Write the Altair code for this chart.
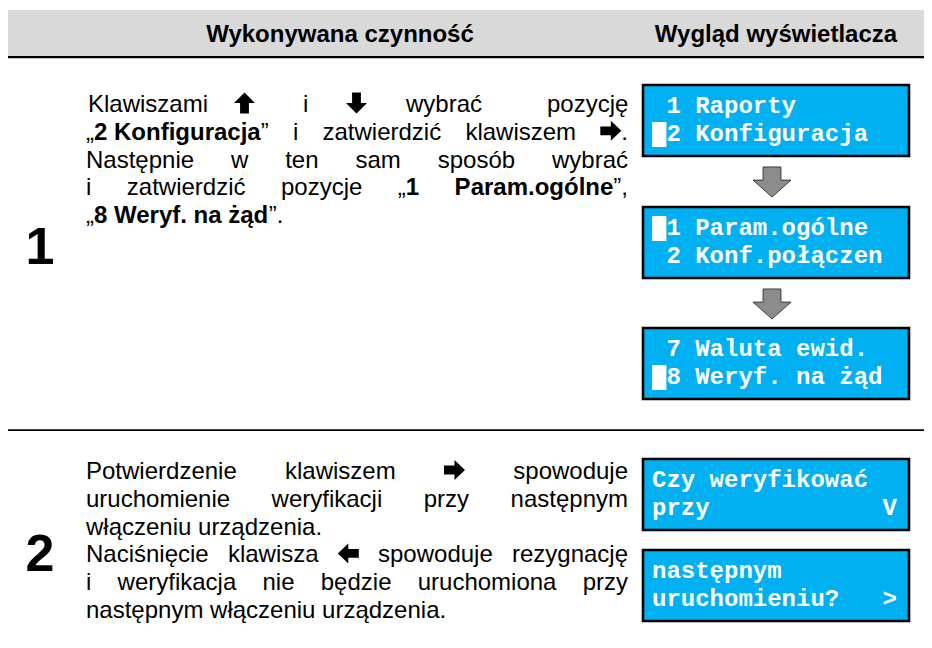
import re
import altair as alt
import pandas as pd

# ---------------- content ----------------
header_texts = ["Wykonywana czynność", "Wygląd wyświetlacza"]
step_numbers = ["1", "2"]

# paragraph lines: list of words, each word a list of (text, style) runs
# style: "r" regular, "b" bold, "UP"/"DOWN"/"RIGHT"/"LEFT" key icons
sec1_lines = [
    [[("Klawiszami", "r")], [("", "UP")], [("i", "r")], [("", "DOWN")], [("wybrać", "r")], [("pozycję", "r")]],
    [[("„", "r"), ("2 Konfiguracja", "b"), ("”", "r")], [("i", "r")], [("zatwierdzić", "r")],
     [("klawiszem", "r")], [("", "RIGHT"), (".", "r")]],
    [[("Następnie", "r")], [("w", "r")], [("ten", "r")], [("sam", "r")], [("sposób", "r")], [("wybrać", "r")]],
    [[("i", "r")], [("zatwierdzić", "r")], [("pozycje", "r")], [("„", "r"), ("1", "b")],
     [("Param.ogólne", "b"), ("”,", "r")]],
    [[("„", "r"), ("8 Weryf. na żąd", "b"), ("”.", "r")]],
]
sec1_justify = [True, True, True, True, False]
# word starts of the first line
sec1_line1_starts = [88, 234, 303, 346, 406, 547]

sec2_lines = [
    [[("Potwierdzenie", "r")], [("klawiszem", "r")], [("", "RIGHT")], [("spowoduje", "r")]],
    [[("uruchomienie", "r")], [("weryfikacji", "r")], [("przy", "r")], [("następnym", "r")]],
    [[("włączeniu", "r")], [("urządzenia.", "r")]],
    [[("Naciśnięcie", "r")], [("klawisza", "r")], [("", "LEFT")], [("spowoduje", "r")], [("rezygnację", "r")]],
    [[("i", "r")], [("weryfikacja", "r")], [("nie", "r")], [("będzie", "r")], [("uruchomiona", "r")], [("przy", "r")]],
    [[("następnym", "r")], [("włączeniu", "r")], [("urządzenia.", "r")]],
]
sec2_justify = [True, True, False, True, True, False]

lcd_screens = [
    [" 1 Raporty", " 2 Konfiguracja"],
    [" 1 Param.ogólne", " 2 Konf.połączen"],
    [" 7 Waluta ewid.", " 8 Weryf. na żąd"],
    ["Czy weryfikować", "przy            V"],
    ["następnym", "uruchomieniu?   >"],
]
lcd_cursor = [(0, 1), (1, 0), (2, 1)]  # (screen, line) with cursor block

# ---------------- layout ----------------
W, H = 916, 632
XS = alt.Scale(domain=[8, 8 + W], range=[0, W], nice=False, zero=False)
YS = alt.Scale(domain=[8, 8 + H], range=[0, H], nice=False, zero=False)

FS = 24            # body font size
LEFT, RIGHT = 86, 628
ICON_ADV = 21
sec1_base = [112 + 27.8 * i for i in range(5)]
sec2_base = [479 + 27.8 * i for i in range(6)]
lcd_tops = [85, 207, 328, 459, 550]
LCD_H = 71
LCD_X0, LCD_X1 = 643, 909
LCD_TX, LCD_CW = 652, 14.4

REG = {' ': 278, '.': 278, ',': 278, '?': 556, '„': 333, '”': 333, '1': 556, '2': 556, '8': 556,
       'K': 667, 'N': 722, 'P': 667, 'W': 944,
       'a': 556, 'b': 556, 'c': 500, 'd': 556, 'e': 556, 'f': 278, 'g': 556, 'h': 556, 'i': 222,
       'j': 222, 'k': 500, 'l': 222, 'm': 833, 'n': 556, 'o': 556, 'p': 556, 'r': 333, 's': 500,
       't': 278, 'u': 556, 'w': 722, 'y': 500, 'z': 500, 'ą': 556, 'ć': 500, 'ę': 556, 'ł': 222,
       'ń': 556, 'ó': 556, 'ś': 500, 'ź': 500, 'ż': 500}
BOLD = {' ': 278, '.': 278, ',': 278, '1': 556, '2': 556, '8': 556, 'K': 722, 'P': 667, 'W': 944,
        'a': 556, 'c': 556, 'd': 611, 'e': 556, 'f': 333, 'g': 611, 'i': 278, 'j': 278, 'l': 278,
        'm': 889, 'n': 611, 'o': 611, 'r': 389, 'u': 611, 'y': 556, 'z': 500, 'ą': 556, 'ó': 611,
        'ż': 500}


def run_w(text, style):
    if style in ("r", "b"):
        t = REG if style == "r" else BOLD
        return sum(t.get(ch, 556) for ch in text) * FS / 1000
    return ICON_ADV


def word_w(word):
    return sum(run_w(t, s) for t, s in word)


text_rows, icon_rows = [], []


def lay_line(words, base, justify, starts=None):
    widths = [word_w(w) for w in words]
    if starts is None:
        if justify and len(words) > 1:
            gap = (RIGHT - LEFT - sum(widths)) / (len(words) - 1)
        else:
            gap = REG[' '] * FS / 1000
        starts, x = [], LEFT
        for wd in widths:
            starts.append(x)
            x += wd + gap
    for word, x in zip(words, starts):
        for t, s in word:
            if s in ("r", "b"):
                text_rows.append(dict(x=x, y=base, text=t, bold=s == "b"))
            else:
                icon_rows.append(dict(x=x + ICON_ADV / 2, y=base - 9, kind=s))
            x += run_w(t, s)


for i, (ln, j) in enumerate(zip(sec1_lines, sec1_justify)):
    lay_line(ln, sec1_base[i], j, sec1_line1_starts if i == 0 else None)
for i, (ln, j) in enumerate(zip(sec2_lines, sec2_justify)):
    lay_line(ln, sec2_base[i], j)

text_df = pd.DataFrame(text_rows)
icon_df = pd.DataFrame(icon_rows)

# rects: header band and rules
band_df = pd.DataFrame([
    dict(x=8, x2=932, y=10, y2=56, fill="#d9d9d9"),
    dict(x=8, x2=932, y=56, y2=58.3, fill="#000000"),
    dict(x=8, x2=932, y=429.2, y2=430.9, fill="#000000"),
])
box_df = pd.DataFrame([dict(x=LCD_X0, x2=LCD_X1, y=t, y2=t + LCD_H) for t in lcd_tops])

lcd_rows, cur_rows = [], []
for si, lines in enumerate(lcd_screens):
    for li, ln in enumerate(lines):
        base = lcd_tops[si] + 28 + 28 * li
        for m in re.finditer(r"\S+(?: \S+)*", ln):
            lcd_rows.append(dict(x=LCD_TX + LCD_CW * m.start(), y=base, text=m.group()))
        if (si, li) in lcd_cursor:
            cur_rows.append(dict(x=LCD_TX, x2=LCD_TX + LCD_CW, y=base - 19, y2=base + 6))
lcd_df = pd.DataFrame(lcd_rows)
cur_df = pd.DataFrame(cur_rows)

head_df = pd.DataFrame(dict(x=[340, 776], y=[42, 42], text=header_texts))
num_df = pd.DataFrame(dict(x=[40, 40], y=[264, 571], text=step_numbers))
gray_df = pd.DataFrame(dict(x=[772, 772], y=[182, 304]))

# ---------------- marks ----------------
def pos(df, two=False):
    enc = dict(x=alt.X("x:Q", scale=XS, axis=None), y=alt.Y("y:Q", scale=YS, axis=None))
    if two:
        enc.update(x2="x2:Q", y2="y2:Q")
    return enc


band = alt.Chart(band_df).mark_rect().encode(color=alt.Color("fill:N", scale=None), **pos(band_df, True))
boxes = alt.Chart(box_df).mark_rect(fill="#00b0f0", stroke="#000000", strokeWidth=2.6).encode(**pos(box_df, True))
cursors = alt.Chart(cur_df).mark_rect(fill="#ffffff").encode(**pos(cur_df, True))

lcd_text = alt.Chart(lcd_df).mark_text(
    font="Liberation Mono", fontWeight="bold", fontSize=24, color="#ffffff",
    align="left", baseline="alphabetic").encode(text="text:N", **pos(lcd_df))

body_r = alt.Chart(text_df[~text_df.bold]).mark_text(
    font="Liberation Sans", fontSize=FS, color="#000000", align="left", baseline="alphabetic"
).encode(text="text:N", **pos(text_df))
body_b = alt.Chart(text_df[text_df.bold]).mark_text(
    font="Liberation Sans", fontWeight="bold", fontSize=FS, color="#000000", align="left",
    baseline="alphabetic").encode(text="text:N", **pos(text_df))

header = alt.Chart(head_df).mark_text(
    font="Liberation Sans", fontWeight="bold", fontSize=24, color="#000000", align="center",
    baseline="alphabetic").encode(text="text:N", **pos(head_df))
numbers = alt.Chart(num_df).mark_text(
    font="Liberation Sans", fontWeight="bold", fontSize=52, color="#000000", align="center",
    baseline="alphabetic").encode(text="text:N", **pos(num_df))

PATHS = {
    "UP": "M0,-1 L1,0 L0.42,0 L0.42,1 L-0.42,1 L-0.42,0 L-1,0 Z",
    "DOWN": "M0,1 L1,0 L0.42,0 L0.42,-1 L-0.42,-1 L-0.42,0 L-1,0 Z",
    "RIGHT": "M1,0 L0,-0.95 L0,-0.42 L-1,-0.42 L-1,0.42 L0,0.42 L0,0.95 Z",
    "LEFT": "M-1,0 L0,-0.95 L0,-0.42 L1,-0.42 L1,0.42 L0,0.42 L0,0.95 Z",
}
icon_layers = []
for kind, path in PATHS.items():
    sub = icon_df[icon_df.kind == kind]
    if len(sub):
        icon_layers.append(alt.Chart(sub).mark_point(
            shape=path, filled=True, fill="#000000", size=441, opacity=1, strokeWidth=0
        ).encode(**pos(sub)))

gray_arrows = alt.Chart(gray_df).mark_point(
    shape="M-0.47,-0.79 L0.47,-0.79 L0.47,-0.1 L1,-0.1 L0,0.79 L-1,-0.1 L-0.47,-0.1 Z",
    filled=True, fill="#8c8c8c", stroke="#3c3c3c", strokeWidth=1, size=1444, opacity=1
).encode(**pos(gray_df))

chart = alt.layer(band, boxes, cursors, lcd_text, body_r, body_b, header, numbers,
                  *icon_layers, gray_arrows).properties(
    width=W, height=H, padding=0,
    autosize=alt.AutoSizeParams(type="none"),
    background="#ffffff",
).configure_view(stroke=None)

chart.save("out.html", embed_options={"renderer": "svg", "actions": False})
